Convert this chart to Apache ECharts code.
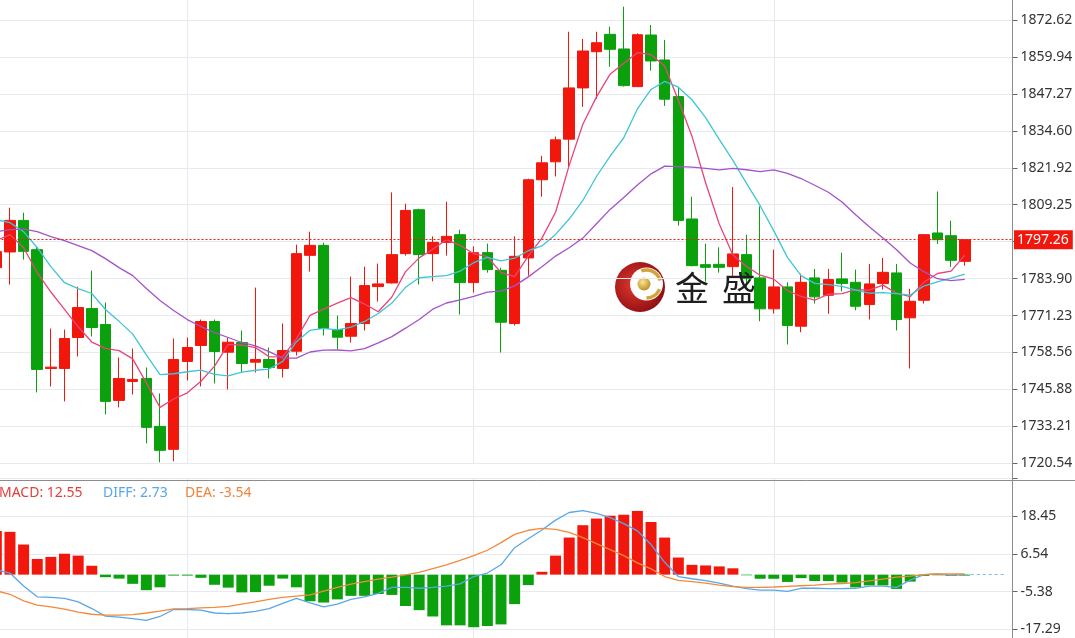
<!DOCTYPE html>
<html>
<head>
<meta charset="utf-8">
<script src="https://cdn.jsdelivr.net/npm/echarts@6/dist/echarts.min.js"></script>
<style>html,body{margin:0;padding:0;background:#fff;}#c{width:1075px;height:638px;}</style>
</head>
<body>
<div id="c"></div>
<script>
// ---- data ----
const opens = [1787.67,1793.05,1803.88,1793.84,1753.08,1753.08,1763.70,1773.63,1768.15,1742.12,1748.63,1749.65,1733.21,1725.33,1755.48,1760.96,1769.18,1758.66,1761.99,1755.24,1756.16,1753.08,1759.00,1791.89,1795.31,1766.44,1764.14,1768.49,1781.17,1782.43,1792.47,1807.54,1792.47,1796.34,1798.98,1782.54,1792.81,1786.75,1768.49,1791.00,1817.82,1823.98,1831.76,1849.33,1861.76,1867.72,1862.69,1849.77,1867.48,1858.92,1846.35,1804.36,1788.70,1788.81,1788.02,1792.13,1784.15,1773.53,1781.06,1767.57,1784.15,1778.19,1783.81,1782.64,1775.00,1782.20,1785.86,1770.45,1776.47,1799.56,1798.63,1789.83];
const closes = [1793.15,1803.88,1793.26,1752.74,1753.53,1763.36,1773.97,1767.12,1741.78,1749.65,1749.31,1732.87,1724.99,1756.16,1760.27,1769.18,1758.90,1762.09,1754.79,1756.16,1753.42,1759.24,1792.47,1795.31,1766.78,1763.80,1768.49,1781.51,1782.09,1792.13,1807.30,1792.13,1796.34,1798.40,1782.54,1792.81,1786.99,1768.94,1791.55,1817.82,1823.64,1831.52,1849.33,1862.00,1864.84,1862.58,1850.12,1867.58,1858.58,1845.46,1803.88,1788.36,1787.78,1787.78,1792.37,1783.91,1773.53,1781.06,1767.81,1782.64,1777.64,1783.57,1782.20,1774.42,1782.09,1786.06,1769.87,1776.13,1798.98,1797.26,1790.17,1797.26];
const lows = [1781.85,1781.85,1790.41,1744.86,1746.91,1741.78,1757.19,1764.04,1737.32,1739.72,1744.17,1727.39,1720.88,1721.23,1748.97,1746.91,1747.94,1745.89,1751.71,1751.71,1749.65,1749.99,1757.53,1786.31,1764.38,1759.59,1761.99,1766.10,1776.03,1782.20,1791.78,1781.85,1782.98,1791.78,1771.58,1779.11,1785.96,1758.56,1767.80,1784.93,1812.00,1818.95,1822.37,1842.82,1845.56,1856.62,1849.77,1849.60,1855.25,1843.16,1802.06,1788.12,1782.88,1785.96,1784.25,1780.14,1769.28,1771.92,1761.30,1765.51,1775.34,1771.82,1779.56,1773.05,1769.87,1780.14,1766.10,1753.08,1775.34,1795.79,1787.92,1788.36];
const highs = [1797.26,1808.23,1806.51,1794.87,1766.78,1766.44,1781.17,1786.65,1775.69,1756.85,1759.93,1753.42,1744.52,1763.36,1763.70,1769.87,1769.87,1763.70,1766.10,1780.82,1760.27,1768.49,1795.55,1800.01,1796.24,1771.23,1784.59,1788.02,1789.05,1813.47,1809.60,1807.88,1798.40,1810.28,1800.69,1794.97,1795.90,1787.67,1798.40,1818.20,1826.04,1832.65,1868.61,1866.11,1868.61,1870.33,1877.18,1868.06,1870.91,1865.77,1849.33,1812.00,1795.90,1794.63,1815.32,1798.98,1808.67,1793.84,1782.64,1785.62,1787.23,1787.23,1792.81,1787.00,1788.94,1791.00,1788.94,1780.38,1799.22,1813.81,1803.77,1797.26];
const ma5 = [1797.0,1799.0,1794.5,1786.0,1779.31,1773.35,1767.37,1762.14,1759.95,1759.18,1756.37,1748.15,1739.72,1742.60,1744.72,1748.69,1753.90,1761.32,1761.05,1760.22,1757.07,1757.14,1763.22,1771.32,1773.44,1775.52,1777.37,1775.18,1772.53,1777.60,1786.30,1791.03,1794.00,1797.26,1795.34,1792.44,1791.42,1785.94,1784.57,1791.62,1797.79,1806.69,1822.77,1836.86,1846.27,1854.05,1857.77,1861.42,1860.74,1856.86,1845.12,1832.77,1816.81,1802.65,1792.03,1788.04,1785.07,1783.73,1779.74,1777.79,1776.54,1778.54,1778.77,1780.09,1779.98,1781.67,1778.93,1777.71,1782.63,1785.66,1786.48,1791.96];
const ma10 = [1804.1,1803.1,1800.0,1794.5,1788.0,1782.5,1780.5,1778.8,1773.3,1769.24,1764.86,1757.76,1750.93,1751.27,1751.95,1752.53,1751.02,1750.52,1751.82,1752.47,1752.88,1755.52,1762.27,1766.18,1766.83,1766.30,1767.26,1769.20,1771.93,1775.52,1780.91,1784.20,1784.59,1784.90,1786.47,1789.37,1791.22,1789.97,1790.91,1793.48,1795.12,1799.06,1804.35,1810.71,1818.94,1825.92,1832.23,1842.10,1848.80,1851.57,1849.59,1845.27,1839.12,1831.70,1824.45,1816.58,1808.92,1800.27,1791.19,1784.91,1782.29,1781.81,1781.25,1779.92,1778.89,1779.10,1778.74,1778.24,1781.36,1782.82,1784.08,1785.44];
const ma20 = [1800.0,1800.69,1800.86,1800.0,1798.29,1796.92,1795.21,1793.50,1790.76,1787.67,1784.93,1780.48,1776.37,1772.95,1769.86,1767.46,1765.41,1763.70,1761.99,1760.86,1758.87,1756.64,1756.60,1758.73,1759.39,1759.41,1759.14,1759.86,1761.87,1764.00,1766.90,1769.86,1773.43,1775.54,1776.65,1777.84,1779.24,1779.58,1781.42,1784.50,1788.01,1791.63,1794.47,1797.81,1802.71,1807.65,1811.73,1816.03,1819.86,1822.52,1822.35,1822.16,1821.74,1821.21,1821.70,1821.25,1820.58,1821.18,1820.00,1818.24,1815.94,1813.54,1810.18,1805.81,1801.67,1797.84,1793.83,1789.26,1786.28,1783.87,1783.18,1783.63];
const macdHist = [13.8,13.5,9.5,4.95,5.6,6.6,6.0,2.8,-0.8,-1.25,-2.9,-4.9,-4.0,-0.3,-0.3,-1.0,-3.2,-4.1,-5.6,-5.5,-3.5,-1.25,-4.0,-8.4,-8.8,-7.8,-6.7,-6.7,-6.1,-6.4,-9.9,-11.2,-13.2,-16.0,-16.0,-16.6,-16.2,-15.7,-9.3,-3.3,0.9,6.0,11.7,15.6,17.7,18.6,18.9,20.1,16.6,11.7,5.4,3.1,2.9,2.6,2.0,-0.2,-1.3,-1.3,-2.3,-1.1,-2.0,-2.0,-2.5,-4.0,-3.4,-3.4,-4.5,-2.2,-0.4,-0.2,-0.4,-0.3];
const diffLine = [1.5,0.5,-3.6,-7.0,-7.2,-7.5,-8.6,-10.7,-13.1,-13.4,-13.9,-14.4,-13.2,-11.0,-11.0,-11.2,-12.1,-12.3,-12.1,-11.6,-10.7,-9.1,-7.5,-8.9,-10.2,-9.3,-7.8,-7.0,-5.9,-4.0,-4.0,-4.3,-4.0,-3.6,-2.9,-0.6,0.5,3.1,8.5,11.3,14.1,17.2,19.6,20.2,19.3,18.0,16.1,13.8,9.5,3.9,-0.6,-1.3,-1.9,-2.7,-3.6,-4.4,-4.9,-4.9,-5.3,-4.3,-4.3,-4.4,-4.4,-4.3,-3.6,-3.6,-4.0,-1.7,0.0,0.2,-0.2,0.0];
const deaLine = [-5.1,-6.2,-8.3,-9.6,-10.2,-10.9,-11.8,-12.5,-12.8,-12.8,-12.6,-12.1,-11.5,-10.8,-10.7,-10.5,-10.3,-10.0,-9.3,-8.6,-7.8,-7.2,-6.8,-6.4,-5.2,-4.0,-3.0,-2.2,-1.4,-0.8,-0.1,0.7,1.9,3.1,4.5,6.0,7.7,10.1,12.7,14.0,14.6,14.3,13.3,11.7,9.8,7.9,6.0,3.7,1.8,-0.6,-1.8,-2.2,-2.7,-3.3,-3.8,-4.0,-4.0,-3.9,-3.7,-3.5,-3.3,-3.0,-2.8,-2.5,-2.0,-1.4,-0.8,-0.5,0.0,0.2,0.2,0.2];
const priceTickLabels = ['1720.54','1733.21','1745.88','1758.56','1771.23','1783.90','','1809.25','1821.92','1834.60','1847.27','1859.94','1872.62'];
const macdTickLabels = ['','-17.29','-5.38','6.54','18.45',''];
const dividerCategories = ['15','36','58'];
const headerTexts = ['MACD: 12.55','DIFF: 2.73','DEA: -3.54'];
const watermarkChars = ['金','盛'];
const categoryCount = 75; // 72 bars plus right-hand empty space

// ---- build ----
const categories = Array.from({length: categoryCount}, (_, i) => String(i + 1));
const candleData = opens.map((o, i) => [o, closes[i], lows[i], highs[i]]);
const lastPrice = closes[closes.length - 1];

const priceMin = 1720.54;
const priceInterval = (1872.62 - 1720.54) / 12;
const priceMax = priceMin + 13 * priceInterval;
const macdInterval = (18.45 - (-17.29)) / 3;
const macdMin = -17.29 - macdInterval;
const macdMax = macdMin + 5 * macdInterval;

const RED = '#f2170d', GREEN = '#0aa10c';
const GRIDC = '#e6eaf0';
const FONT = '"Noto Sans", "Open Sans", sans-serif';

const chart = echarts.init(document.getElementById('c'), null, {renderer: 'canvas'});

const xCommon = {
  type: 'category', data: categories, boundaryGap: true,
  axisLine: {show: false}, axisTick: {show: false}, axisLabel: {show: false}, splitLine: {show: false}
};
const vLines = (z) => ({
  silent: true, symbol: 'none', animation: false, z: z,
  label: {show: false},
  lineStyle: {color: GRIDC, type: 'solid', width: 1},
  data: dividerCategories.map(c => ({xAxis: c}))
});

const option = {
  animation: false,
  backgroundColor: '#fff',
  grid: [
    {left: -10.5, right: 62.5, top: -16.9, height: 480.2, outerBoundsMode: 'none', containLabel: false},
    {left: -10.5, right: 62.5, top: 478.4, height: 188.8, outerBoundsMode: 'none', containLabel: false}
  ],
  xAxis: [
    Object.assign({gridIndex: 0}, xCommon),
    Object.assign({gridIndex: 1}, xCommon)
  ],
  yAxis: [
    {
      type: 'value', gridIndex: 0, position: 'right',
      min: priceMin, max: priceMax, interval: priceInterval,
      axisLine: {show: false},
      axisTick: {show: true, length: 5, lineStyle: {color: '#666'}},
      axisLabel: {
        color: '#333', fontFamily: FONT, fontSize: 14, margin: 8,
        formatter: v => { const k = Math.round((v - priceMin) / priceInterval); return priceTickLabels[k] || ''; }
      },
      splitLine: {show: true, lineStyle: {color: GRIDC, width: 1}}
    },
    {
      type: 'value', gridIndex: 1, position: 'right',
      min: macdMin, max: macdMax, interval: macdInterval,
      axisLine: {show: false},
      axisTick: {show: true, length: 5, lineStyle: {color: '#666'}},
      axisLabel: {
        color: '#333', fontFamily: FONT, fontSize: 14, margin: 8,
        formatter: v => { const k = Math.round((v - macdMin) / macdInterval); return macdTickLabels[k] || ''; }
      },
      splitLine: {show: true, lineStyle: {color: GRIDC, width: 1}}
    }
  ],
  series: [
    {
      name: 'K', type: 'candlestick', xAxisIndex: 0, yAxisIndex: 0,
      data: candleData, barWidth: 11, z: 3,
      itemStyle: {color: RED, color0: GREEN, borderColor: RED, borderColor0: GREEN, borderWidth: 1},
      markLine: {
        silent: true, symbol: 'none', animation: false, z: 6,
        lineStyle: {color: RED, type: [2, 2], width: 1},
        label: {
          show: true, position: 'end', distance: 1.5,
          formatter: () => lastPrice.toFixed(2),
          color: '#fff', backgroundColor: RED, padding: [3, 4, 2, 3],
          fontFamily: FONT, fontSize: 14
        },
        data: [{yAxis: lastPrice}]
      }
    },
    {
      name: 'MA5', type: 'line', xAxisIndex: 0, yAxisIndex: 0, data: ma5,
      symbol: 'none', smooth: false, z: 4, lineStyle: {color: '#e8447c', width: 1.3}
    },
    {
      name: 'MA10', type: 'line', xAxisIndex: 0, yAxisIndex: 0, data: ma10,
      symbol: 'none', smooth: false, z: 4, lineStyle: {color: '#3fc5d6', width: 1.3}
    },
    {
      name: 'MA20', type: 'line', xAxisIndex: 0, yAxisIndex: 0, data: ma20,
      symbol: 'none', smooth: false, z: 4, lineStyle: {color: '#a552c8', width: 1.3},
      markLine: vLines(1)
    },
    {
      name: 'MACD', type: 'bar', xAxisIndex: 1, yAxisIndex: 1, data: macdHist,
      barWidth: 11, z: 3,
      itemStyle: {color: p => (p.value >= 0 ? RED : GREEN)}
    },
    {
      name: 'DIFF', type: 'line', xAxisIndex: 1, yAxisIndex: 1, data: diffLine,
      symbol: 'none', z: 4, lineStyle: {color: '#5aa7e8', width: 1.3},
      markLine: {
        silent: true, symbol: 'none', animation: false, z: 4,
        label: {show: false},
        lineStyle: {color: '#7fb8ea', type: [3, 3], width: 1},
        data: [[{coord: [categories[closes.length - 1], diffLine[diffLine.length - 1]]}, {coord: [categories[categoryCount - 1], diffLine[diffLine.length - 1]]}]]
      }
    },
    {
      name: 'DEA', type: 'line', xAxisIndex: 1, yAxisIndex: 1, data: deaLine,
      symbol: 'none', z: 4, lineStyle: {color: '#f28a3c', width: 1.3},
      markLine: vLines(1)
    }
  ],
  graphic: [
    {type: 'line', z: 50, silent: true, shape: {x1: 0, y1: 480.5, x2: 1075, y2: 480.5}, style: {stroke: '#8c8c8c', lineWidth: 1}},
    {type: 'line', z: 50, silent: true, shape: {x1: 1012.5, y1: 0, x2: 1012.5, y2: 638}, style: {stroke: '#8c8c8c', lineWidth: 1}},
    {type: 'text', z: 50, silent: true, style: {text: headerTexts[0], x: -1, y: 493, font: '14px ' + FONT, fill: '#e0403a', verticalAlign: 'middle'}},
    {type: 'text', z: 50, silent: true, style: {text: headerTexts[1], x: 103, y: 493, font: '14px ' + FONT, fill: '#5aa7e8', verticalAlign: 'middle'}},
    {type: 'text', z: 50, silent: true, style: {text: headerTexts[2], x: 185, y: 493, font: '14px ' + FONT, fill: '#f0843a', verticalAlign: 'middle'}},
    {
      type: 'group', x: 640, y: 287, z: 40, silent: true,
      children: [
        {type: 'circle', shape: {cx: 0, cy: 0, r: 25},
          style: {fill: new echarts.graphic.RadialGradient(0.4, 0.45, 0.65, [{offset: 0, color: '#e23a2e'}, {offset: 1, color: '#8a0b10'}])}},
        {type: 'circle', shape: {cx: 6.5, cy: -3, r: 16.5}, style: {fill: '#ffffff'}},
        {type: 'arc', shape: {cx: 6.5, cy: -3, r: 14, startAngle: -Math.PI * 0.62, endAngle: -Math.PI * 0.08},
          style: {stroke: '#d2a43c', lineWidth: 3.5, fill: 'none'}},
        {type: 'arc', shape: {cx: 6.5, cy: -3, r: 14, startAngle: Math.PI * 0.12, endAngle: Math.PI * 0.5},
          style: {stroke: '#d2a43c', lineWidth: 3.5, fill: 'none'}},
        {type: 'circle', shape: {cx: 4, cy: -3, r: 6.5},
          style: {fill: new echarts.graphic.RadialGradient(0.4, 0.35, 0.7, [{offset: 0, color: '#fbe690'}, {offset: 1, color: '#b9891d'}])}}
      ]
    },
    {type: 'text', z: 40, silent: true, style: {text: watermarkChars[0], x: 675, y: 288, font: '34px "Noto Sans CJK SC"', fill: '#1e1e1e', verticalAlign: 'middle'}},
    {type: 'text', z: 40, silent: true, style: {text: watermarkChars[1], x: 722, y: 288, font: '34px "Noto Sans CJK SC"', fill: '#1e1e1e', verticalAlign: 'middle'}}
  ]
};
chart.setOption(option);
</script>
</body>
</html>
